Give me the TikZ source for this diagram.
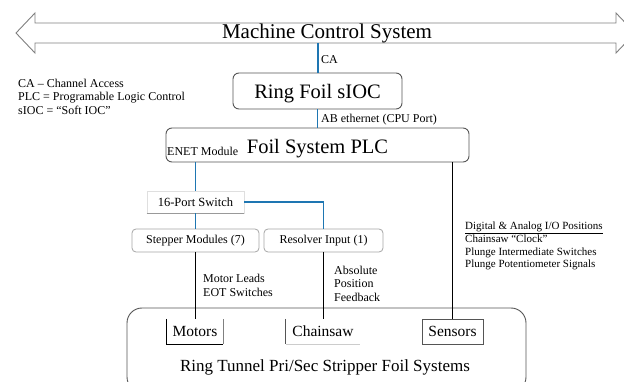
\documentclass[tikz,border=0pt]{standalone}
\usepackage{fontspec}
\setmainfont{Liberation Serif}
\definecolor{linkblue}{RGB}{30,118,178}
\definecolor{boxgray}{RGB}{85,85,85}
\begin{document}
\begin{tikzpicture}[x=1pt,y=-1pt,
  rbox/.style={draw=boxgray, line width=0.9pt, rounded corners=6pt, inner sep=0pt, align=center, text depth=0pt},
  sbox/.style={draw=gray!70, line width=0.8pt, rounded corners=4pt, inner sep=0pt, minimum height=23pt, font=\fontsize{12}{14}\selectfont},
  bluelink/.style={draw=linkblue, line width=1.6pt},
  blacklink/.style={draw=black, line width=1.4pt},
  lbl/.style={inner sep=0pt, font=\fontsize{12}{13.5}\selectfont, align=left},
  devbox/.style={inner sep=0pt, minimum height=25pt, font=\fontsize{15.5}{18}\selectfont},
]
\useasboundingbox (0,0) rectangle (624,382);
\clip (0,0) rectangle (624,382);
\fill[white] (0,0) rectangle (624,382);

% big double arrow
\draw[gray, line width=0.9pt, line join=miter]
  (16,33) -- (35,13) -- (35,23) -- (616,23) -- (616,13) -- (635,33) -- (616,53) -- (616,43) -- (35,43) -- (35,53) -- cycle;
\node[inner sep=0pt, font=\fontsize{21}{24}\selectfont] (mcs) at (327,33) {Machine Control System};
\coordinate (caTop) at (318,43);

% legend
\node[lbl, anchor=north west] (legend) at (18,78.5) {CA – Channel Access\\PLC = Programable Logic Control\\sIOC = “Soft IOC”};

% Ring Foil sIOC
\node[rbox, minimum width=169pt, minimum height=36pt, font=\fontsize{20.5}{24}\selectfont] (sioc) at (317.5,91) {Ring Foil sIOC};
\draw[bluelink] (caTop) -- (caTop |- sioc.north);
\node[lbl, anchor=base west] (calbl) at (321,64) {CA};

% PLC
\node[rbox, minimum width=303pt, minimum height=34pt, font=\fontsize{20.5}{24}\selectfont] (plc) at (317.5,145) {\raisebox{-2pt}{Foil System PLC}};
\draw[bluelink] (sioc.south) -- (sioc.south |- plc.north);
\node[lbl, anchor=base west] (ablbl) at (321,123) {AB ethernet (CPU Port)};
\node[lbl, anchor=base west] (enet) at (167,156) {ENET Module};

% switch
\node[draw=gray!25, line width=0.8pt, minimum width=97pt, minimum height=22pt, inner sep=0pt, font=\fontsize{12.5}{14}\selectfont] (sw) at (195.5,202) {16-Port Switch};
\draw[gray!80, line width=0.9pt] (sw.south west) -- (sw.south east);

% modules
\node[sbox, minimum width=127pt] (step) at (195.5,240.5) {Stepper Modules (7)};
\node[sbox, minimum width=119pt] (res) at (323.5,240.5) {Resolver Input (1)};

\draw[bluelink] (plc.south -| sw.north) -- (sw.north);
\draw[bluelink] (sw.east) -| (res.north);
\draw[bluelink] (sw.south) -- (step.north);

% ring tunnel box
\node[draw=boxgray, line width=0.9pt, rounded corners=15pt, minimum width=399pt, minimum height=84pt, inner sep=0pt] (ring) at (326.5,350) {};
\node[inner sep=0pt, font=\fontsize{17}{20}\selectfont] (ringlbl) at (325,367) {Ring Tunnel Pri/Sec Stripper Foil Systems};

% devices
\node[devbox, minimum width=56pt] (mot) at (195,331.5) {Motors};
\draw[black, line width=0.8pt] (mot.north west) -- (mot.south west) -- (mot.south east);
\draw[gray, line width=0.8pt] (mot.south east) -- (mot.north east);
\node[devbox, minimum width=74pt] (chs) at (323,331.5) {Chainsaw};
\draw[boxgray, line width=0.8pt] (chs.north west) -- (chs.south west);
\draw[gray!40, line width=0.8pt] (chs.south west) -- (chs.south east);
\node[devbox, minimum width=61pt, draw=boxgray, line width=0.8pt] (sen) at (452.5,331.5) {Sensors};

% black links
\draw[blacklink] (step.south) -- (step.south |- mot.north);
\draw[blacklink] (res.south) -- (res.south |- chs.north);
\draw[blacklink] (plc.south -| sen.north) -- (sen.north);

% labels
\node[lbl, anchor=north west, font=\fontsize{12}{14.5}\selectfont] (motlbl) at (203,273.5) {Motor Leads\\EOT Switches};
\node[lbl, anchor=north west] (abslbl) at (334,265.5) {Absolute\\Position\\Feedback};
\node[lbl, anchor=north west, font=\fontsize{11}{12.6}\selectfont] (iolbl) at (465,222) {\underline{Digital \& Analog I/O Positions}\\Chainsaw “Clock”\\Plunge Intermediate Switches\\Plunge Potentiometer Signals};
\end{tikzpicture}
\end{document}
